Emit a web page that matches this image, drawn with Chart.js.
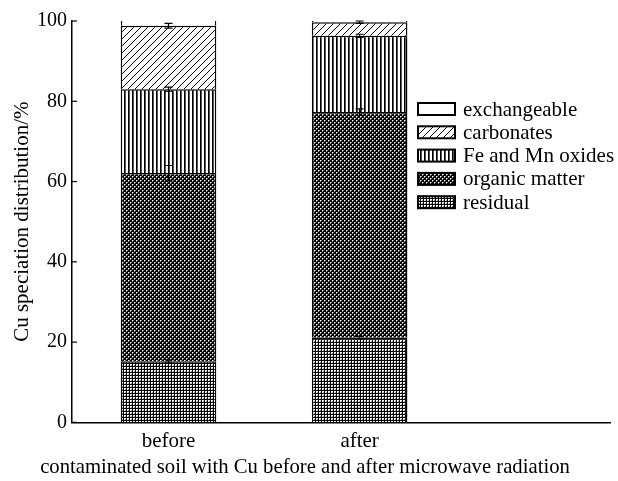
<!DOCTYPE html>
<html>
<head>
<meta charset="utf-8">
<script src="https://cdn.jsdelivr.net/npm/chart.js@4.4.0/dist/chart.umd.min.js"></script>
<style>
  html, body { margin: 0; padding: 0; background: #fff; }
</style>
</head>
<body>
<canvas id="chart" width="618" height="481"></canvas>
<script>
var categories = ['before', 'after'];

// % of total Cu in each fraction, bottom of the stack first
var residual = [15.2, 21.1];
var organicMatter = [46.9, 56.2];
var feMnOxides = [20.9, 19.0];
var carbonates = [15.8, 3.4];
var exchangeable = [1.2, 0.3];

// error bars sit on the top of each segment
var residualErr = [0.4, 0.3];
var organicErr = [1.9, 0.8];
var feMnErr = [0.5, 0.4];
var carbonatesErr = [0.6, 0.3];
var exchangeableErr = [0, 0];

var yTicks = [0, 20, 40, 60, 80, 100];

var FONT = '"Liberation Serif", "Times New Roman", serif';

function makePattern(w, h, draw) {
  var c = document.createElement('canvas');
  c.width = w;
  c.height = h;
  var g = c.getContext('2d');
  g.fillStyle = '#fff';
  g.fillRect(0, 0, w, h);
  draw(g);
  return g.createPattern(c, 'repeat');
}

var whiteFill = '#fff';

var diagFill = makePattern(7, 7, function (g) {
  g.strokeStyle = '#000';
  g.lineWidth = 1;
  [-7, 0, 7].forEach(function (k) {
    g.beginPath();
    g.moveTo(k, 7);
    g.lineTo(k + 7, 0);
    g.stroke();
  });
});

var vertFill = makePattern(4, 4, function (g) {
  g.fillStyle = '#000';
  g.fillRect(0, 0, 1, 4);
  g.fillStyle = '#555';
  g.fillRect(1, 0, 1, 4);
});

var crossFill = makePattern(4, 4, function (g) {
  g.fillStyle = '#000';
  g.fillRect(0, 0, 4, 4);
  g.fillStyle = '#888';
  g.fillRect(1, 0, 1, 1);
  g.fillRect(0, 1, 1, 1);
  g.fillRect(3, 2, 1, 1);
  g.fillRect(2, 3, 1, 1);
  g.fillStyle = '#fff';
  g.fillRect(0, 0, 1, 1);
  g.fillRect(2, 2, 1, 1);
});

var gridFill = makePattern(3, 3, function (g) {
  g.fillStyle = '#000';
  g.fillRect(0, 0, 3, 1);
  g.fillRect(0, 0, 1, 3);
  g.fillStyle = '#999';
  g.fillRect(2, 2, 1, 1);
});

function points(arr) {
  return categories.map(function (c, i) { return { x: i, y: arr[i] }; });
}

function series(label, arr, errs, fill) {
  return {
    label: label,
    data: points(arr),
    errors: errs,
    backgroundColor: fill,
    borderColor: '#000',
    borderWidth: 1.5,
    grouped: false,
    barPercentage: 0.5,
    categoryPercentage: 1
  };
}

var datasets = [
  series('residual', residual, residualErr, gridFill),
  series('organic matter', organicMatter, organicErr, crossFill),
  series('Fe and Mn oxides', feMnOxides, feMnErr, vertFill),
  series('carbonates', carbonates, carbonatesErr, diagFill),
  series('exchangeable', exchangeable, exchangeableErr, whiteFill)
];
datasets[4].borderWidth = { left: 1.5, right: 1.5, top: 0, bottom: 0 };

// y ticks point into the plot
var inwardTicks = {
  id: 'inwardTicks',
  afterDraw: function (chart) {
    var ys = chart.scales.y;
    var left = chart.chartArea.left;
    var ctx = chart.ctx;
    ctx.save();
    ctx.strokeStyle = '#000';
    ctx.lineWidth = 1.2;
    ys.ticks.forEach(function (t) {
      var py = ys.getPixelForValue(t.value);
      ctx.beginPath();
      ctx.moveTo(left, py);
      ctx.lineTo(left + 5, py);
      ctx.stroke();
    });
    ctx.restore();
  }
};

var errorBars = {
  id: 'errorBars',
  afterDatasetsDraw: function (chart) {
    var ctx = chart.ctx;
    var xs = chart.scales.x;
    var ys = chart.scales.y;
    ctx.save();
    ctx.strokeStyle = '#000';
    ctx.lineWidth = 1.2;
    categories.forEach(function (c, j) {
      var top = 0;
      chart.data.datasets.forEach(function (ds) {
        top += ds.data[j].y;
        var e = ds.errors[j];
        if (!e) return;
        var px = xs.getPixelForValue(j);
        var y1 = ys.getPixelForValue(top + e);
        var y2 = ys.getPixelForValue(top - e);
        ctx.beginPath();
        ctx.moveTo(px, y1);
        ctx.lineTo(px, y2);
        ctx.moveTo(px - 4, y1);
        ctx.lineTo(px + 4, y1);
        ctx.moveTo(px - 4, y2);
        ctx.lineTo(px + 4, y2);
        ctx.stroke();
      });
    });
    ctx.restore();
  }
};

var boxLegend = {
  id: 'boxLegend',
  afterDraw: function (chart) {
    var ctx = chart.ctx;
    var area = chart.chartArea;
    var x0 = area.left + 346;
    var y0 = area.top + 88;
    var sets = chart.data.datasets.slice().reverse();
    ctx.save();
    ctx.font = '21px ' + FONT;
    ctx.textBaseline = 'middle';
    sets.forEach(function (ds, i) {
      var cy = y0 + i * 23.3;
      ctx.fillStyle = ds.backgroundColor;
      ctx.fillRect(x0, cy - 6, 37, 12);
      ctx.strokeStyle = '#000';
      ctx.lineWidth = 2;
      ctx.strokeRect(x0, cy - 6, 37, 12);
      ctx.fillStyle = '#000';
      ctx.fillText(ds.label, x0 + 45, cy + 1);
    });
    ctx.restore();
  }
};

new Chart(document.getElementById('chart'), {
  type: 'bar',
  data: { datasets: datasets },
  plugins: [inwardTicks, errorBars, boxLegend],
  options: {
    responsive: false,
    animation: false,
    layout: { padding: { top: 21, right: 8, left: 0, bottom: 0 } },
    plugins: {
      legend: { display: false },
      tooltip: { enabled: false },
      title: {
        display: true,
        position: 'bottom',
        text: 'contaminated soil with Cu before and after microwave radiation',
        color: '#000',
        font: { family: FONT, size: 20.7, weight: 'normal' },
        padding: { top: 0, bottom: 1.5 }
      }
    },
    scales: {
      x: {
        type: 'linear',
        min: -0.505,
        max: 2.31,
        offset: false,
        grid: { display: false, drawTicks: false },
        border: { display: true, color: '#000', width: 1.5 },
        afterBuildTicks: function (scale) {
          scale.ticks = categories.map(function (c, i) { return { value: i }; });
        },
        ticks: {
          callback: function (v) { return categories[v]; },
          color: '#000',
          font: { family: FONT, size: 21 },
          padding: 7,
          maxRotation: 0,
          autoSkip: false
        },
        afterFit: function (scale) { scale.height = 32.3; }
      },
      y: {
        stacked: true,
        min: 0,
        max: 100,
        grid: { display: false, drawTicks: false },
        border: { display: true, color: '#000', width: 1.5 },
        afterBuildTicks: function (scale) {
          scale.ticks = yTicks.map(function (v) { return { value: v }; });
        },
        ticks: {
          color: '#000',
          font: { family: FONT, size: 20 },
          padding: 5
        },
        title: {
          display: true,
          text: 'Cu speciation distribution/%',
          color: '#000',
          font: { family: FONT, size: 21 },
          padding: { top: 9.4, bottom: 0 }
        },
        afterFit: function (scale) { scale.width = 72; }
      }
    }
  }
});
</script>
</body>
</html>
